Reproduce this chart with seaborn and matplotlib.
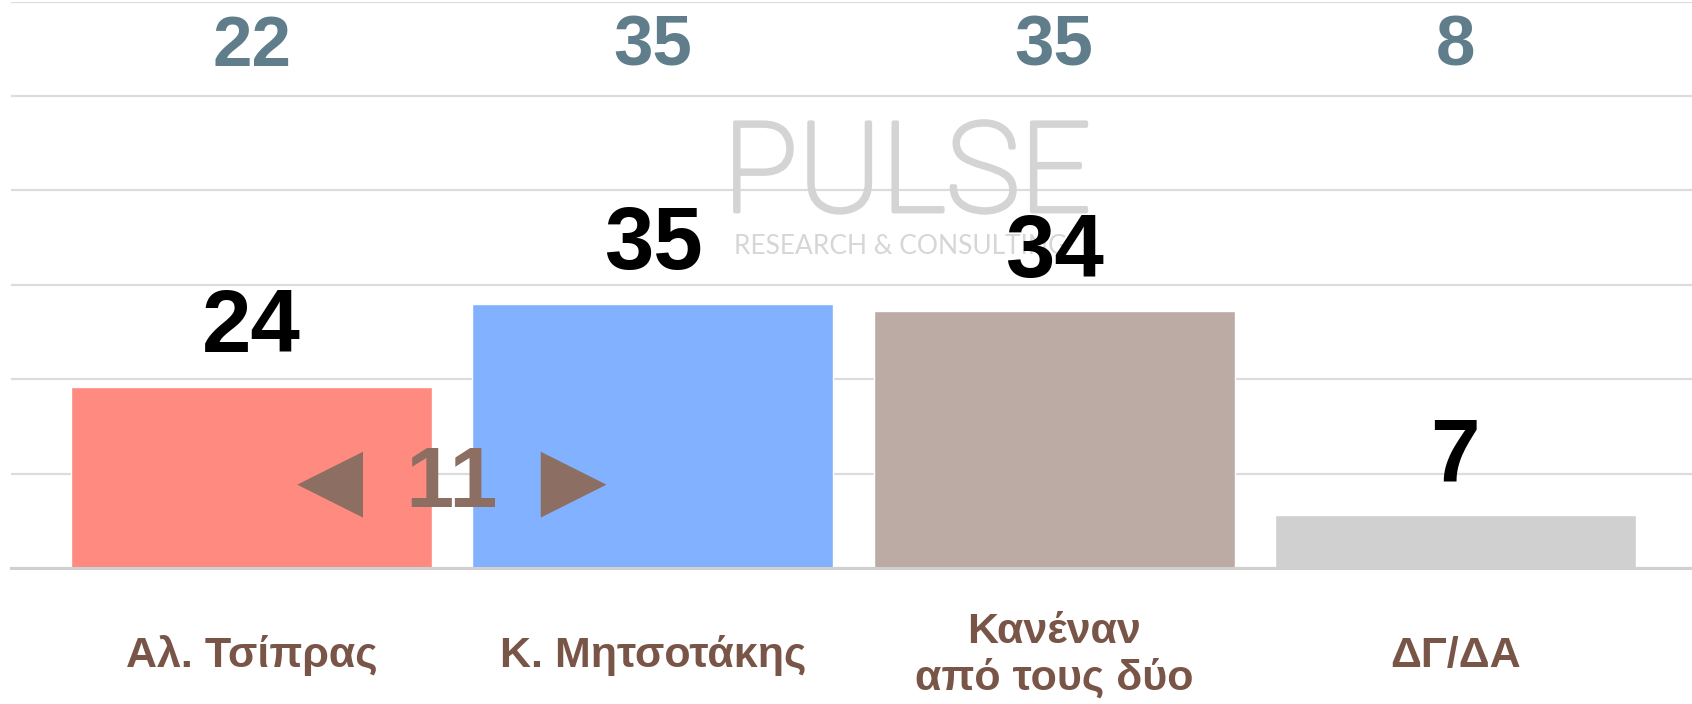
import numpy as np
import pandas as pd
import matplotlib
matplotlib.use("Agg")
import matplotlib.pyplot as plt
import matplotlib.patheffects as pe
import seaborn as sns

# data
categories = ["Αλ. Τσίπρας", "Κ. Μητσοτάκης", "Κανέναν\nαπό τους δύο", "ΔΓ/ΔΑ"]
current = [24, 35, 34, 7]
previous = [22, 35, 35, 8]
bar_colors = ["#FF8A80", "#82B1FF", "#BCAAA4", "#D0D0D0"]

sns.set_theme(style="white")
plt.rcParams["font.family"] = ["Liberation Sans", "DejaVu Sans"]

df = pd.DataFrame({"who": categories, "pct": current})

fig = plt.figure(figsize=(16.92, 7.04), dpi=100)
ax = fig.add_axes([11 / 1692, 136 / 704, 1 - 11 / 1692, 566.5 / 704])

sns.barplot(data=df, x="who", y="pct", hue="who", palette=bar_colors,
            width=0.9, legend=False, ax=ax, saturation=1)

ax.set_xlim(-0.6, 3.59)
ax.set_ylim(0, 75)
ax.set_yticks(np.arange(0, 76, 12.5))
ax.set_yticklabels([])
ax.tick_params(axis="y", length=0)
ax.grid(axis="y", color="#dcdcdc", linewidth=1.6)
ax.set_axisbelow(True)
for s in ["top", "right", "left"]:
    ax.spines[s].set_visible(False)
ax.spines["bottom"].set_color("#d0d0d0")
ax.spines["bottom"].set_linewidth(2.2)
ax.set_xlabel("")
ax.set_ylabel("")

# category labels
ax.set_xticks(range(len(categories)))
ax.set_xticklabels(categories, fontsize=31, fontweight="bold", color="#795548",
                   va="center", linespacing=1.2)
ax.tick_params(axis="x", length=0, pad=63)

# watermark
ax.text(0.533, 0.69, "PULSE", transform=ax.transAxes, fontsize=90,
        family=["Roboto", "DejaVu Sans"], fontweight="light", color="#d4d4d4",
        ha="center", va="center", zorder=1,
        path_effects=[pe.withStroke(linewidth=3, foreground="#d4d4d4")])
ax.text(0.43, 0.568, "RESEARCH & CONSULTING", transform=ax.transAxes, fontsize=19,
        family=["Lato", "DejaVu Sans"], fontweight="normal", color="#d6d6d6",
        ha="left", va="center", zorder=1)

# value labels on bars
for i, v in enumerate(current):
    ax.annotate(str(v), (i, v), xytext=(0, 11), textcoords="offset points",
                ha="center", va="bottom", fontsize=64, fontweight="bold",
                color="black", zorder=5)

# previous values along the top
for i, v in enumerate(previous):
    ax.text(i, 68.9, str(v), ha="center", va="center", fontsize=51,
            fontweight="bold", color="#607D8B", zorder=5)

# gap between the two leaders
gap = current[1] - current[0]
ax.text(0.5, gap, "◀\u2002" + str(gap) + "\u2002▶", ha="center", va="center",
        fontsize=62, fontweight="bold", color="#8D6E63", zorder=6)

fig.savefig("out.png", dpi=100)
